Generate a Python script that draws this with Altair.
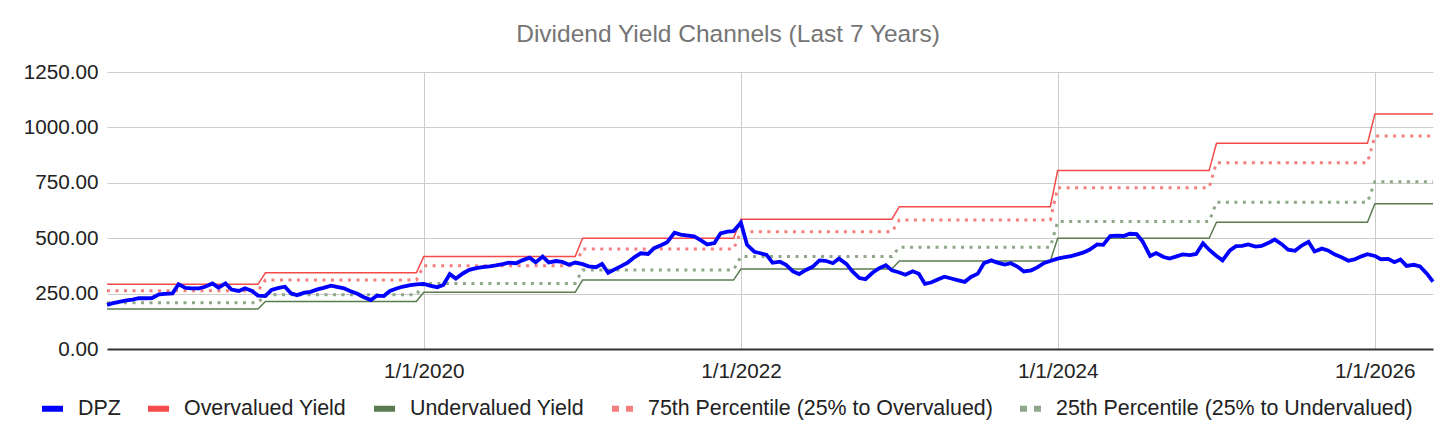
import datetime as dt
import altair as alt
import pandas as pd

# ---------------- data ----------------
years = [2018, 2019, 2020, 2021, 2022, 2023, 2024, 2025, 2026]
overvalued = [292, 344, 417, 500, 586, 642, 805, 928, 1060]
p75 = [263, 311, 376, 451, 529, 582, 728, 841, 961]
p25 = [209, 245, 296, 357, 417, 459, 575, 662, 755]
undervalued = [180, 214, 256, 311, 361, 397, 500, 572, 656]

# DPZ, semi-monthly (1st and 15th) from 2018-01-01 to 2026-05-15
dpz = [
    199, 207, 214, 219, 223, 229, 229, 230, 247, 249, 251, 292,
    276, 274, 274, 281, 296, 277, 296, 268, 262, 274, 262, 241,
    239, 266, 276, 281, 251, 243, 254, 258, 269, 276, 286, 280,
    274, 262, 249, 235, 221, 241, 239, 262, 274, 282, 288, 292,
    294, 286, 279, 289, 338, 318, 342, 357, 365, 369, 373, 377,
    383, 390, 387, 400, 412, 391, 417, 391, 397, 393, 380, 390,
    383, 373, 369, 384, 344, 358, 375, 390, 415, 432, 429, 455,
    468, 482, 525, 516, 512, 508, 490, 472, 478, 522, 530, 532,
    570, 470, 439, 432, 425, 389, 394, 380, 350, 338, 358, 371,
    400, 398, 387, 408, 384, 350, 320, 315, 345, 364, 378, 355,
    345, 335, 351, 340, 294, 300, 315, 326, 318, 311, 303, 325,
    340, 387, 400, 390, 381, 387, 371, 350, 355, 368, 388, 397,
    408, 413, 419, 427, 436, 449, 472, 470, 510, 512, 510, 520,
    518, 485, 420, 433, 415, 408, 418, 427, 424, 429, 477, 448,
    420, 400, 445, 464, 465, 472, 462, 465, 479, 494, 472, 448,
    443, 465, 484, 440, 453, 445, 426, 415, 398, 404, 418, 428,
    420, 405, 407, 392, 404, 375, 380, 373, 340, 304,
]

series_names = [
    "DPZ",
    "Overvalued Yield",
    "Undervalued Yield",
    "75th Percentile (25% to Overvalued)",
    "25th Percentile (25% to Undervalued)",
]
series_colors = ["#0000ff", "#f44a4a", "#5a7b4f", "#f47f7f", "#8fa68a"]
legend_dashes = [[1, 0], [1, 0], [1, 0], [7, 7], [7, 7]]
x_tick_dates = [(2020, 1, 1), (2022, 1, 1), (2024, 1, 1), (2026, 1, 1)]
y_ticks = [0, 250, 500, 750, 1000, 1250]

# ---------------- build table ----------------
dates = []
for y in range(2018, 2027):
    for m in range(1, 13):
        for d in (1, 15):
            t = dt.date(y, m, d)
            if t <= dt.date(2026, 5, 15):
                dates.append(t)
n = min(len(dates), len(dpz))
dates = dates[:n]

step_map = {
    "Overvalued Yield": overvalued,
    "Undervalued Yield": undervalued,
    "75th Percentile (25% to Overvalued)": p75,
    "25th Percentile (25% to Undervalued)": p25,
}
rows = []
for i in range(n):
    t = pd.Timestamp(dates[i])
    rows.append({"date": t, "series": "DPZ", "value": dpz[i]})
    yi = years.index(dates[i].year)
    for name, vals in step_map.items():
        rows.append({"date": t, "series": name, "value": vals[yi]})
df = pd.DataFrame(rows)

FONT = "Liberation Sans"

x_enc = alt.X(
    "date:T",
    scale=alt.Scale(nice=False),
    axis=alt.Axis(
        values=[alt.DateTime(year=a, month=b, date=c) for a, b, c in x_tick_dates],
        format="%-m/%-d/%Y",
        title=None,
        grid=True,
        gridColor="#cccccc",
        gridWidth=1,
        domain=False,
        ticks=False,
        labelFontSize=20.7,
        labelColor="#222222",
        labelPadding=12,
        labelFont=FONT,
    ),
)
y_enc = alt.Y(
    "value:Q",
    scale=alt.Scale(domain=[0, 1250], nice=False),
    axis=alt.Axis(
        values=y_ticks,
        format=".2f",
        title=None,
        grid=True,
        gridColor={"condition": {"test": "datum.value === 0", "value": "#333333"}, "value": "#cccccc"},
        gridWidth={"condition": {"test": "datum.value === 0", "value": 2}, "value": 1},
        domain=False,
        ticks=False,
        labelFontSize=20.7,
        labelColor="#222222",
        labelPadding=9,
        labelFont=FONT,
    ),
)
legend = alt.Legend(
    title=None,
    orient="none",
    legendX=-68,
    legendY=323,
    direction="horizontal",
    columns=5,
    symbolType="stroke",
    symbolSize=441,
    symbolStrokeWidth=6,
    labelFontSize=21.4,
    labelFont=FONT,
    labelColor="#222222",
    labelOffset=12,
    labelLimit=1000,
    columnPadding=15,
    padding=0,
)
color_enc = alt.Color(
    "series:N",
    scale=alt.Scale(domain=series_names, range=series_colors),
    legend=legend,
)
dash_enc = alt.StrokeDash(
    "series:N",
    scale=alt.Scale(domain=series_names, range=legend_dashes),
    legend=legend,
)

base = alt.Chart(df).encode(x=x_enc, y=y_enc, color=color_enc, detail="series:N")

# layer with no rows that only supplies the dash pattern to the legend
legend_only = base.transform_filter(
    alt.FieldEqualPredicate(field="series", equal="__none__")
).mark_line(strokeWidth=6).encode(strokeDash=dash_enc)

dotted = base.transform_filter(
    alt.FieldOneOfPredicate(field="series", oneOf=series_names[3:])
).mark_line(strokeWidth=3, strokeDash=[3, 5.5])

solid = base.transform_filter(
    alt.FieldOneOfPredicate(field="series", oneOf=series_names[1:3])
).mark_line(strokeWidth=1.5)

main = base.transform_filter(
    alt.FieldEqualPredicate(field="series", equal="DPZ")
).mark_line(strokeWidth=3.8)

chart = (
    alt.layer(legend_only, dotted, solid, main)
    .properties(
        width=1326,
        height=277,
        title=alt.TitleParams(
            text="Dividend Yield Channels (Last 7 Years)",
            font=FONT,
            fontSize=24.5,
            fontWeight="normal",
            color="#757575",
            anchor="middle",
            frame="group",
            offset=14,
            dx=-42,
        ),
        autosize=alt.AutoSizeParams(type="none"),
        padding={"left": 99, "top": 64, "right": 15, "bottom": 80},
    )
    .configure(font=FONT)
    .configure_view(stroke=None)
)

chart.save("out.html", embed_options={"renderer": "svg", "actions": False})
